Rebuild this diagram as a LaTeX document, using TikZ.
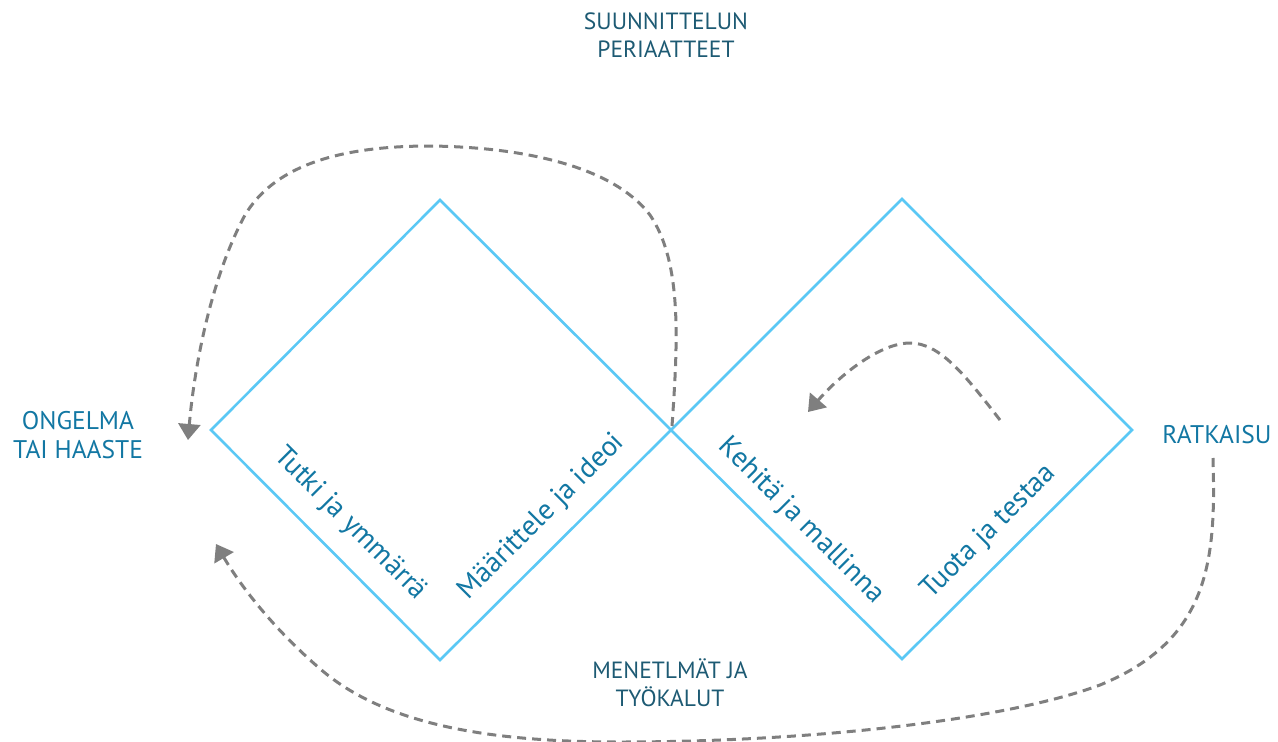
\documentclass[tikz,border=0pt]{standalone}
\usepackage{fontspec}
\setmainfont{PT Sans}
\usetikzlibrary{arrows.meta}
\definecolor{dia}{HTML}{5AC8F5}
\definecolor{dgray}{HTML}{7F7F7F}
\definecolor{headdark}{HTML}{1D5A73}
\definecolor{headblue}{HTML}{1277A3}
\definecolor{rotblue}{HTML}{1277A3}
\tikzset{
  diamondline/.style={draw=dia, line width=2.6pt, line join=miter},
  dasharrow/.style={draw=dgray, line width=3pt, dash pattern=on 9pt off 6pt,
     -{Triangle[length=16pt,width=22pt]}},
  headA/.style={text=headdark, align=center, font=\fontsize{23.5}{27.5}\selectfont},
  headB/.style={text=headblue, align=center, font=\fontsize{25.5}{28.5}\selectfont},
  rottext/.style={text=rotblue, font=\fontsize{28.5}{32}\selectfont, inner sep=0pt}
}
\begin{document}
\begin{tikzpicture}[x=1pt,y=-1pt]
\useasboundingbox (0,0) rectangle (1278,742);
% diamond corners
\coordinate (LT) at (440,200);
\coordinate (LL) at (211,430);
\coordinate (LB) at (440,660);
\coordinate (X)  at (671,430);
\coordinate (RT) at (902,199);
\coordinate (RR) at (1132,430);
\coordinate (RB) at (902,659);
\draw[diamondline] (LT) -- (LL) -- (LB) -- (X) -- cycle;
\draw[diamondline] (RT) -- (X) -- (RB) -- (RR) -- cycle;

% labels
\node[headA] (periaatteet) at (666,35) {SUUNNITTELUN\\PERIAATTEET};
\node[headA] (menetelmat) at (670,683) {MENETLMÄT JA\\TYÖKALUT};
\node[headB] (ongelma) at (78,435) {ONGELMA\\TAI HAASTE};
\node[headB] (ratkaisu) at (1217,435) {RATKAISU};

\node[rottext, rotate=-45] (tutki) at (350,524) {Tutki ja ymmärrä};
\node[rottext, rotate=45] (maarittele) at (542,517) {Määrittele ja ideoi};
\node[rottext, rotate=-45] (kehita) at (801,521) {Kehitä ja mallinna};
\node[rottext, rotate=45] (tuota) at (989,532) {Tuota ja testaa};

% arrow end points
\coordinate (a1s) at (672,426);
\coordinate (a1e) at (188,440);
\coordinate (a2s) at (1000,420);
\coordinate (a2e) at (808,412);
\coordinate (a3s) at (1213,458);
\coordinate (a3e) at (216,544);

\draw[dasharrow] (a1s) .. controls (678,340) and (682,262) .. (650,215)
  .. controls (612,165) and (520,147) .. (430,146)
  .. controls (330,146) and (272,170) .. (245,215)
  .. controls (210,280) and (194,370) .. (a1e);

\draw[dasharrow] (a2s) .. controls (965,375) and (940,343) .. (910,343)
  .. controls (880,343) and (840,375) .. (a2e);

\draw[dasharrow] (a3s) .. controls (1216,560) and (1210,640) .. (1100,685)
  .. controls (1000,722) and (800,742) .. (620,742)
  .. controls (480,742) and (380,722) .. (318,667)
  .. controls (272,627) and (240,585) .. (a3e);
\end{tikzpicture}
\end{document}
